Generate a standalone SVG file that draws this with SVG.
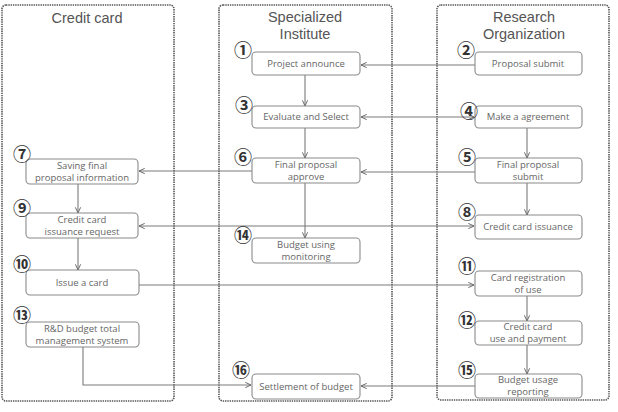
<svg xmlns="http://www.w3.org/2000/svg" width="618" height="412" viewBox="0 0 618 412">
<style>
.lane{fill:none;stroke:#555;stroke-width:1.6;stroke-dasharray:1.4 0.9}
.title{font-family:"Liberation Sans","Open Sans",sans-serif;font-size:14.5px;fill:#555;text-anchor:middle}
.box{fill:#fff;stroke:#8a8a8a;stroke-width:1.1}
.t{font-family:"Open Sans","Noto Sans",sans-serif;font-size:9.5px;fill:#666;text-anchor:middle}
.num{font-family:"Noto Sans CJK JP","DejaVu Sans",sans-serif;font-size:18px;font-weight:bold;fill:#333;text-anchor:middle}
.c{fill:none;stroke:#7a7a7a;stroke-width:1.1}
</style>
<defs>
<marker id="ah" viewBox="0 0 8 8" refX="7.5" refY="4" markerWidth="7" markerHeight="7" markerUnits="userSpaceOnUse" orient="auto-start-reverse">
<path d="M1,1 L7.5,4 L1,7" fill="none" stroke="#666" stroke-width="1.1"/>
</marker>
</defs>
<rect width="618" height="412" fill="#fff"/>
<g id="lane-credit-card"><rect class="lane" x="2" y="5" width="172" height="396" rx="4"/><text class="title" x="87" y="23">Credit card</text></g>
<g id="lane-institute"><rect class="lane" x="219" y="5" width="173" height="396" rx="4"/><text class="title" x="305" y="22">Specialized</text><text class="title" x="305" y="39">Institute</text></g>
<g id="lane-research"><rect class="lane" x="437" y="5" width="172" height="395" rx="4"/><text class="title" x="524" y="22">Research</text><text class="title" x="524" y="39">Organization</text></g>

<g id="connectors">
<line class="c" x1="475" y1="65" x2="361" y2="65" marker-end="url(#ah)"/>
<line class="c" x1="361" y1="117" x2="474" y2="117" marker-start="url(#ah)" marker-end="url(#ah)"/>
<line class="c" x1="305" y1="75" x2="305" y2="106" marker-end="url(#ah)"/>
<line class="c" x1="527" y1="128" x2="527" y2="158" marker-end="url(#ah)"/>
<line class="c" x1="305" y1="128" x2="305" y2="158" marker-end="url(#ah)"/>
<line class="c" x1="475" y1="172" x2="361" y2="172" marker-end="url(#ah)"/>
<line class="c" x1="252" y1="171" x2="139" y2="171" marker-end="url(#ah)"/>
<line class="c" x1="78" y1="184" x2="78" y2="213" marker-end="url(#ah)"/>
<line class="c" x1="139" y1="226" x2="474" y2="226" marker-start="url(#ah)" marker-end="url(#ah)"/>
<line class="c" x1="527" y1="183" x2="527" y2="215" marker-end="url(#ah)"/>
<line class="c" x1="305" y1="183" x2="305" y2="238" marker-end="url(#ah)"/>
<line class="c" x1="78" y1="238" x2="78" y2="270" marker-end="url(#ah)"/>
<line class="c" x1="139" y1="285" x2="474" y2="285" marker-end="url(#ah)"/>
<line class="c" x1="527" y1="296" x2="527" y2="321" marker-end="url(#ah)"/>
<line class="c" x1="527" y1="345" x2="527" y2="374" marker-end="url(#ah)"/>
<line class="c" x1="475" y1="386" x2="361" y2="386" marker-end="url(#ah)"/>
<polyline class="c" points="83,347 83,385 251,385" marker-end="url(#ah)"/>
</g>

<g id="n1"><rect class="box" x="252" y="52" width="108" height="23" rx="4"/><text class="t" x="306" y="67">Project announce</text><text class="num" x="243" y="57">①</text></g>
<g id="n2"><rect class="box" x="475" y="52" width="107" height="23" rx="4"/><text class="t" x="528" y="67">Proposal submit</text><text class="num" x="466" y="57">②</text></g>
<g id="n3"><rect class="box" x="252" y="106" width="108" height="22" rx="4"/><text class="t" x="306" y="120">Evaluate and Select</text><text class="num" x="244" y="112">③</text></g>
<g id="n4"><rect class="box" x="475" y="106" width="107" height="22" rx="4"/><text class="t" x="528" y="120">Make a agreement</text><text class="num" x="469" y="118">④</text></g>
<g id="n5"><rect class="box" x="475" y="158" width="107" height="25" rx="4"/><text class="t" x="528" y="168">Final proposal</text><text class="t" x="528" y="180">submit</text><text class="num" x="467" y="164">⑤</text></g>
<g id="n6"><rect class="box" x="252" y="158" width="108" height="25" rx="4"/><text class="t" x="306" y="168">Final proposal</text><text class="t" x="306" y="180">approve</text><text class="num" x="243" y="164">⑥</text></g>
<g id="n7"><rect class="box" x="26" y="159" width="112" height="25" rx="4"/><text class="t" x="82" y="169">Saving final</text><text class="t" x="82" y="181">proposal information</text><text class="num" x="22" y="161">⑦</text></g>
<g id="n8"><rect class="box" x="475" y="215" width="107" height="24" rx="4"/><text class="t" x="528" y="230">Credit card issuance</text><text class="num" x="467" y="219">⑧</text></g>
<g id="n9"><rect class="box" x="26" y="213" width="112" height="25" rx="4"/><text class="t" x="82" y="223">Credit card</text><text class="t" x="82" y="235">issuance request</text><text class="num" x="22" y="215">⑨</text></g>
<g id="n10"><rect class="box" x="26" y="270" width="113" height="25" rx="4"/><text class="t" x="82" y="286">Issue a card</text><text class="num" x="22" y="271">⑩</text></g>
<g id="n11"><rect class="box" x="475" y="271" width="107" height="25" rx="4"/><text class="t" x="528" y="281">Card registration</text><text class="t" x="528" y="293">of use</text><text class="num" x="467" y="273">⑪</text></g>
<g id="n12"><rect class="box" x="475" y="321" width="107" height="24" rx="4"/><text class="t" x="528" y="330">Credit card</text><text class="t" x="528" y="342">use and payment</text><text class="num" x="467" y="327">⑫</text></g>
<g id="n13"><rect class="box" x="26" y="322" width="113" height="25" rx="4"/><text class="t" x="82" y="332">R&amp;D budget total</text><text class="t" x="82" y="344">management system</text><text class="num" x="22" y="322">⑬</text></g>
<g id="n14"><rect class="box" x="252" y="238" width="108" height="25" rx="4"/><text class="t" x="306" y="248">Budget using</text><text class="t" x="306" y="260">monitoring</text><text class="num" x="243" y="242">⑭</text></g>
<g id="n15"><rect class="box" x="475" y="374" width="107" height="24" rx="4"/><text class="t" x="528" y="383">Budget usage</text><text class="t" x="528" y="395">reporting</text><text class="num" x="467" y="377">⑮</text></g>
<g id="n16"><rect class="box" x="252" y="374" width="108" height="25" rx="4"/><text class="t" x="306" y="390">Settlement of budget</text><text class="num" x="241" y="377">⑯</text></g>
</svg>
